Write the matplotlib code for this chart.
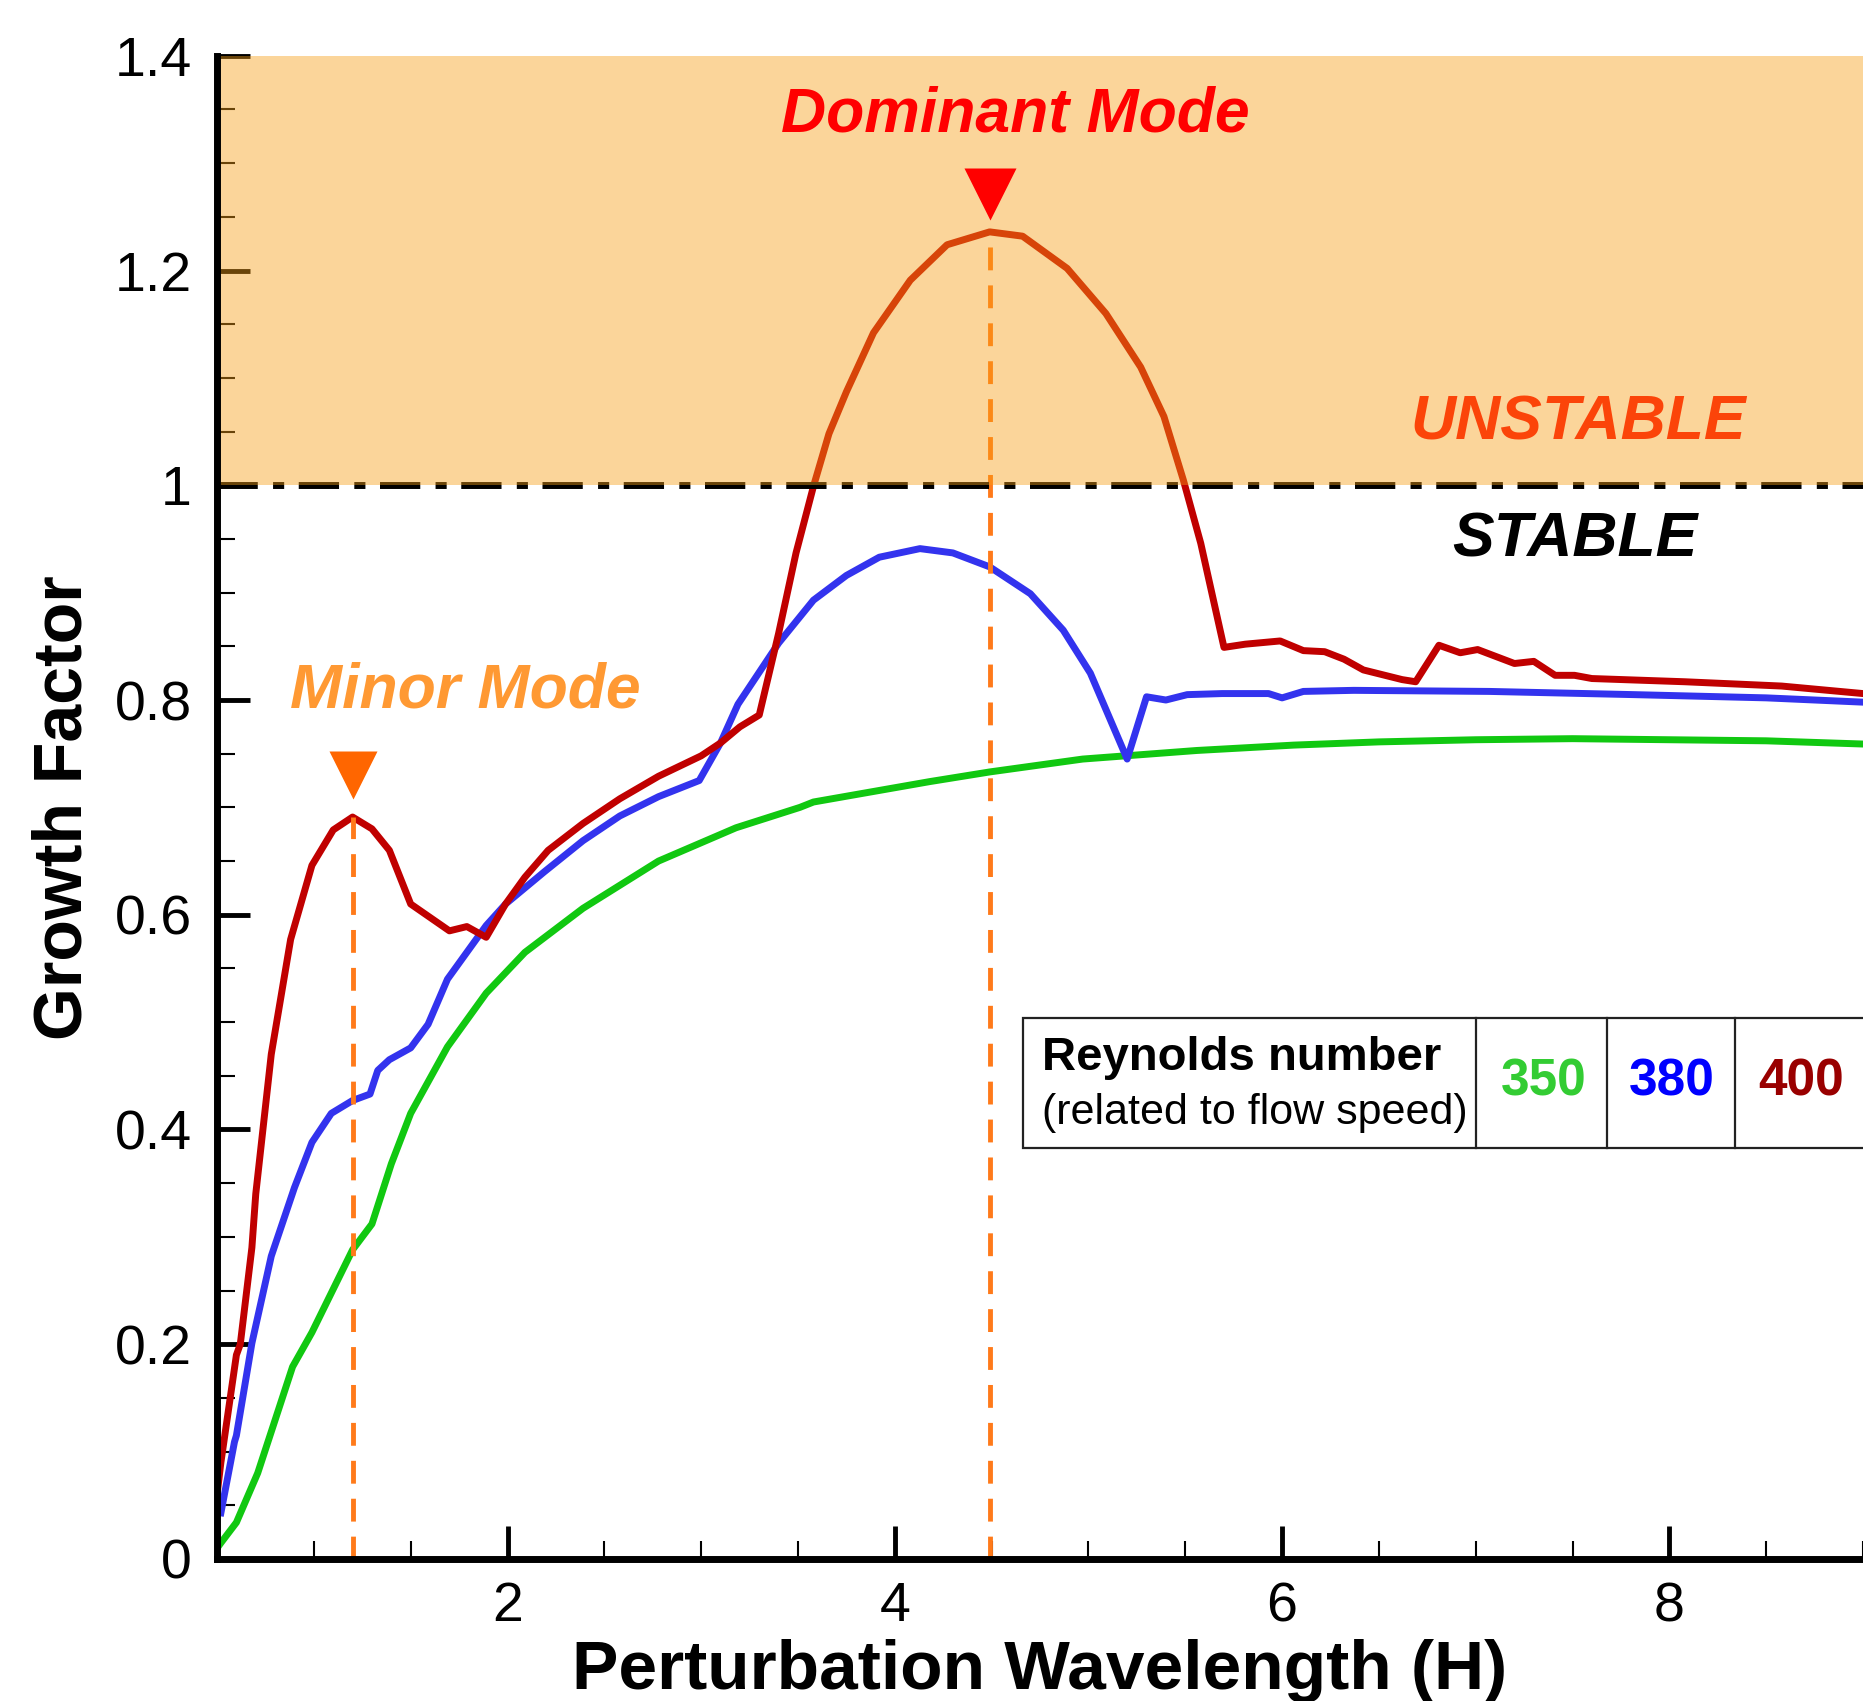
"""
growth factor versus perturbation wavelength for three reynolds numbers
"""

# importing the libraries
import matplotlib
matplotlib.use("Agg")
import matplotlib.pyplot as plt
from matplotlib.patches import Rectangle
from matplotlib.ticker import MultipleLocator, FormatStrFormatter

plt.rcParams["font.family"] = ["Liberation Sans", "DejaVu Sans"]

# re = 400
wavelength_400 = [0.5, 0.52, 0.6, 0.62, 0.68, 0.7, 0.78, 0.88, 0.99, 1.1, 1.2, 1.3, 1.39,
                  1.5, 1.7, 1.79, 1.89, 1.99, 2.09, 2.21, 2.39, 2.58, 2.78, 3.0, 3.1, 3.2,
                  3.3, 3.40, 3.49, 3.58, 3.66, 3.75, 3.89, 4.08, 4.27, 4.49, 4.66, 4.89,
                  5.09, 5.27, 5.39, 5.49, 5.58, 5.7, 5.81, 5.99, 6.11, 6.22, 6.32, 6.42,
                  6.62, 6.69, 6.81, 6.92, 7.01, 7.2, 7.3, 7.41, 7.51, 7.6, 8.08, 8.58, 9.0]
growth_400 = [0.06, 0.09, 0.19, 0.20, 0.29, 0.34, 0.47, 0.577, 0.646, 0.679, 0.691, 0.68,
              0.66, 0.61, 0.585, 0.589, 0.579, 0.61, 0.635, 0.66, 0.685, 0.708, 0.729,
              0.748, 0.76, 0.775, 0.786, 0.862, 0.937, 0.999, 1.048, 1.087, 1.142, 1.191,
              1.224, 1.236, 1.232, 1.202, 1.160, 1.110, 1.064, 1.005, 0.946, 0.849, 0.852,
              0.855, 0.846, 0.845, 0.838, 0.828, 0.819, 0.817, 0.851, 0.844, 0.847, 0.834,
              0.836, 0.823, 0.823, 0.820, 0.817, 0.813, 0.806]

# re = 380
wavelength_380 = [0.52, 0.59, 0.6, 0.68, 0.78, 0.9, 0.99, 1.09, 1.2, 1.29, 1.33, 1.39, 1.5,
                  1.59, 1.69, 1.79, 1.89, 1.99, 2.19, 2.39, 2.58, 2.78, 2.99, 3.1, 3.19,
                  3.40, 3.58, 3.75, 3.92, 4.13, 4.3, 4.49, 4.70, 4.87, 5.01, 5.2, 5.3, 5.4,
                  5.51, 5.69, 5.93, 6.0, 6.11, 6.37, 7.07, 7.82, 8.5, 9.0]
growth_380 = [0.043, 0.109, 0.115, 0.201, 0.282, 0.346, 0.388, 0.415, 0.427, 0.433, 0.455,
              0.465, 0.476, 0.498, 0.54, 0.565, 0.59, 0.61, 0.64, 0.669, 0.692, 0.71, 0.725,
              0.76, 0.796, 0.853, 0.893, 0.916, 0.933, 0.941, 0.937, 0.924, 0.899, 0.865,
              0.825, 0.745, 0.803, 0.800, 0.805, 0.806, 0.806, 0.802, 0.808, 0.809, 0.808,
              0.805, 0.802, 0.798]

# re = 350
wavelength_350 = [0.5, 0.52, 0.6, 0.71, 0.89, 0.99, 1.2, 1.3, 1.4, 1.5, 1.69, 1.89, 2.09,
                  2.39, 2.78, 3.18, 3.51, 3.58, 4.18, 4.49, 4.97, 5.56, 6.06, 6.5, 7.0, 7.5,
                  8.0, 8.5, 9.0]
growth_350 = [0.01, 0.015, 0.034, 0.08, 0.179, 0.211, 0.288, 0.312, 0.368, 0.415, 0.477,
              0.527, 0.565, 0.606, 0.650, 0.681, 0.700, 0.705, 0.724, 0.733, 0.745, 0.753,
              0.758, 0.761, 0.763, 0.764, 0.763, 0.762, 0.759]

# the two marked modes
minor_mode = (1.2, 0.691)
dominant_mode = (4.49, 1.236)

reynolds_labels = ["350", "380", "400"]
reynolds_colors = ["#33cc33", "#0000ff", "#990000"]

# setting up the figure
fig = plt.figure(figsize=(18.63, 17.01), dpi=100)
ax = fig.add_axes([0.1165, 0.0835, 0.8835, 0.8837])

# unstable region
ax.fill_between([0.5, 9.0], 1.0, 1.4, color="#f69e15", alpha=0.43, lw=0, zorder=3)
ax.axhline(1.0, color="black", lw=5, dashes=(5.8, 2.2, 1.6, 2.1), zorder=2.4)

# the curves
ax.plot(wavelength_350, growth_350, color="#11c811", lw=5, zorder=2)
ax.plot(wavelength_380, growth_380, color="#3333ee", lw=5, zorder=2)
ax.plot(wavelength_400, growth_400, color="#c00000", lw=5, zorder=2)

# mode markers
ax.plot([minor_mode[0]] * 2, [0, minor_mode[1]], color="#ff7a1a", lw=3.5,
        dashes=(4.7, 3.1), zorder=2.2)
ax.plot([dominant_mode[0]] * 2, [0, dominant_mode[1]], color="#ff7a1a", lw=3.5,
        dashes=(4.7, 3.1), zorder=2.2)
ax.plot(minor_mode[0], minor_mode[1] + 0.039, marker="v", ms=35, color="#ff6600",
        mec="none", zorder=4)
ax.plot(dominant_mode[0], dominant_mode[1] + 0.035, marker="v", ms=37, color="#ff0000",
        mec="none", zorder=4)

# annotations
ax.text(4.62, 1.345, "Dominant Mode", color="#ff0000", fontsize=45, fontweight="bold",
        style="italic", ha="center", va="center", zorder=5)
ax.text(1.78, 0.808, "Minor Mode", color="#ff9933", fontsize=45, fontweight="bold",
        style="italic", ha="center", va="center", zorder=5)
ax.text(7.53, 1.058, "UNSTABLE", color="#fb4409", fontsize=45, fontweight="bold",
        style="italic", ha="center", va="center", zorder=5)
ax.text(7.51, 0.949, "STABLE", color="black", fontsize=45, fontweight="bold",
        style="italic", ha="center", va="center", zorder=5)

# legend table
ax.add_patch(Rectangle((4.66, 0.383), 5.0, 0.121, facecolor="white", edgecolor="#222222",
                       lw=1.6, zorder=4))
for xd in [7.0, 7.68, 8.34]:
    ax.plot([xd, xd], [0.383, 0.504], color="#222222", lw=1.6, zorder=4.5)
ax.text(4.76, 0.467, "Reynolds number", fontsize=34, fontweight="bold", ha="left",
        va="center", zorder=5)
ax.text(4.76, 0.415, "(related to flow speed)", fontsize=31, ha="left", va="center", zorder=5)
for xc, lab, col in zip([7.35, 8.01, 8.68], reynolds_labels, reynolds_colors):
    ax.text(xc, 0.444, lab, color=col, fontsize=37, fontweight="bold", ha="center",
            va="center", zorder=5)

# axes styling
ax.set_xlim(0.5, 9.0)
ax.set_ylim(0, 1.4)
ax.xaxis.set_major_locator(MultipleLocator(2))
ax.xaxis.set_minor_locator(MultipleLocator(0.5))
ax.yaxis.set_major_locator(MultipleLocator(0.2))
ax.yaxis.set_minor_locator(MultipleLocator(0.05))
ax.yaxis.set_major_formatter(FormatStrFormatter("%g"))
ax.xaxis.set_major_formatter(FormatStrFormatter("%g"))
ax.tick_params(which="major", direction="in", length=24, width=3.5, labelsize=40)
ax.tick_params(which="minor", direction="in", length=13, width=1.5)
ax.tick_params(axis="y", which="major", pad=18)
ax.tick_params(axis="x", which="major", pad=16)

for side in ["top", "right"]:
    ax.spines[side].set_visible(False)
ax.spines["left"].set_linewidth(5)
ax.spines["bottom"].set_linewidth(5)
ax.spines["left"].set_zorder(5)

ax.set_xlabel("Perturbation Wavelength (H)", fontsize=50, fontweight="bold", labelpad=4)
ax.set_ylabel("Growth Factor", fontsize=49, fontweight="bold", labelpad=14)

# saving the figure
fig.savefig("out.png", dpi=100)
